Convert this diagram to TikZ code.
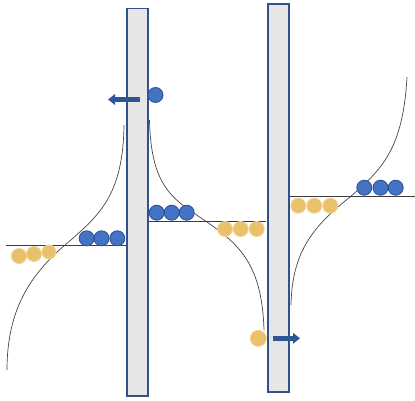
\documentclass[tikz,border=0pt]{standalone}
\usetikzlibrary{arrows.meta}
\definecolor{barfill}{RGB}{230,230,230}
\definecolor{barline}{RGB}{47,82,143}
\definecolor{bluefill}{RGB}{68,114,196}
\definecolor{blueline}{RGB}{47,85,151}
\definecolor{goldfill}{RGB}{232,193,106}
\definecolor{goldline}{RGB}{240,210,145}
\definecolor{curvec}{RGB}{70,70,70}
\definecolor{levelc}{RGB}{60,60,60}
\definecolor{arrowc}{RGB}{47,85,151}
\begin{document}
\begin{tikzpicture}[x=1pt,y=-1pt,
  barbox/.style={draw=barline, fill=barfill, line width=1.8pt, inner sep=0pt, minimum width=21.2pt},
  bluedot/.style={circle, draw=blueline, fill=bluefill, line width=0.9pt, minimum size=15pt, inner sep=0pt},
  golddot/.style={circle, draw=goldline, fill=goldfill, line width=0.9pt, minimum size=15pt, inner sep=0pt},
  curveline/.style={draw=curvec, line width=0.7pt},
  levelline/.style={draw=levelc, line width=0.9pt},
  fatarrow/.style={draw=arrowc, line width=4.5pt, -{Triangle[length=7pt,width=10.5pt]}}
]
\useasboundingbox (0,0) rectangle (415,400);

% curves
\coordinate (c1a) at (7,370);
\coordinate (c1m) at (65,245);
\coordinate (c1b) at (124,125);
\draw[curveline] (c1a) .. controls (7,310) and (30,275) .. (c1m) .. controls (100,215) and (123,195) .. (c1b);
\coordinate (c2a) at (149.5,120);
\coordinate (c2m) at (207,222);
\coordinate (c2b) at (264,330);
\draw[curveline] (c2a) .. controls (151,190) and (175,200) .. (c2m) .. controls (240,245) and (262,265) .. (c2b);
\coordinate (c3a) at (291,305);
\coordinate (c3m) at (350,197);
\coordinate (c3b) at (407,77);
\draw[curveline] (c3a) .. controls (292,250) and (315,225) .. (c3m) .. controls (381,170) and (403,150) .. (c3b);

% level lines
\coordinate (l1a) at (6,245.3);
\coordinate (l1b) at (126,245.3);
\draw[levelline] (l1a) -- (l1b);
\coordinate (l2a) at (149,221.3);
\coordinate (l2b) at (266,221.3);
\draw[levelline] (l2a) -- (l2b);
\coordinate (l3a) at (290,196.7);
\coordinate (l3b) at (415,196.7);
\draw[levelline] (l3a) -- (l3b);

% bars
\node[barbox, minimum height=387.2pt] (bar1) at (137.5,202.1) {};
\node[barbox, minimum height=387.9pt] (bar2) at (278.5,197.85) {};

% left dots
\node[golddot] (y1) at (19,256) {};
\node[golddot] (y2) at (34,254) {};
\node[golddot, minimum size=14pt] (y3) at (49,252) {};
\node[bluedot] (b1) at (86.7,238.3) {};
\node[bluedot] (b2) at (101.5,238.3) {};
\node[bluedot] (b3) at (117.3,238.3) {};

% middle dots
\node[bluedot] (b4) at (156.7,212.7) {};
\node[bluedot] (b5) at (171.7,212.7) {};
\node[bluedot] (b6) at (186.7,212.7) {};
\node[golddot] (y4) at (225,229) {};
\node[golddot] (y5) at (240.7,229) {};
\node[golddot] (y6) at (256.7,229) {};

% right dots
\node[golddot] (y7) at (298.3,205.7) {};
\node[golddot] (y8) at (314.3,205.7) {};
\node[golddot] (y9) at (330.3,205.7) {};
\node[bluedot] (b7) at (364.3,187.7) {};
\node[bluedot] (b8) at (380.5,187.7) {};
\node[bluedot] (b9) at (395.7,187.7) {};

% escaping carriers
\node[bluedot] (bt) at (155.5,95) {};
\coordinate (a1s) at (140,99.5);
\coordinate (a1e) at (108,99.5);
\draw[fatarrow] (a1s) -- (a1e);
\node[golddot, minimum size=16pt] (yb) at (258.3,338.3) {};
\coordinate (a2s) at (272.7,338.3);
\coordinate (a2e) at (300,338.3);
\draw[fatarrow] (a2s) -- (a2e);
\end{tikzpicture}
\end{document}
